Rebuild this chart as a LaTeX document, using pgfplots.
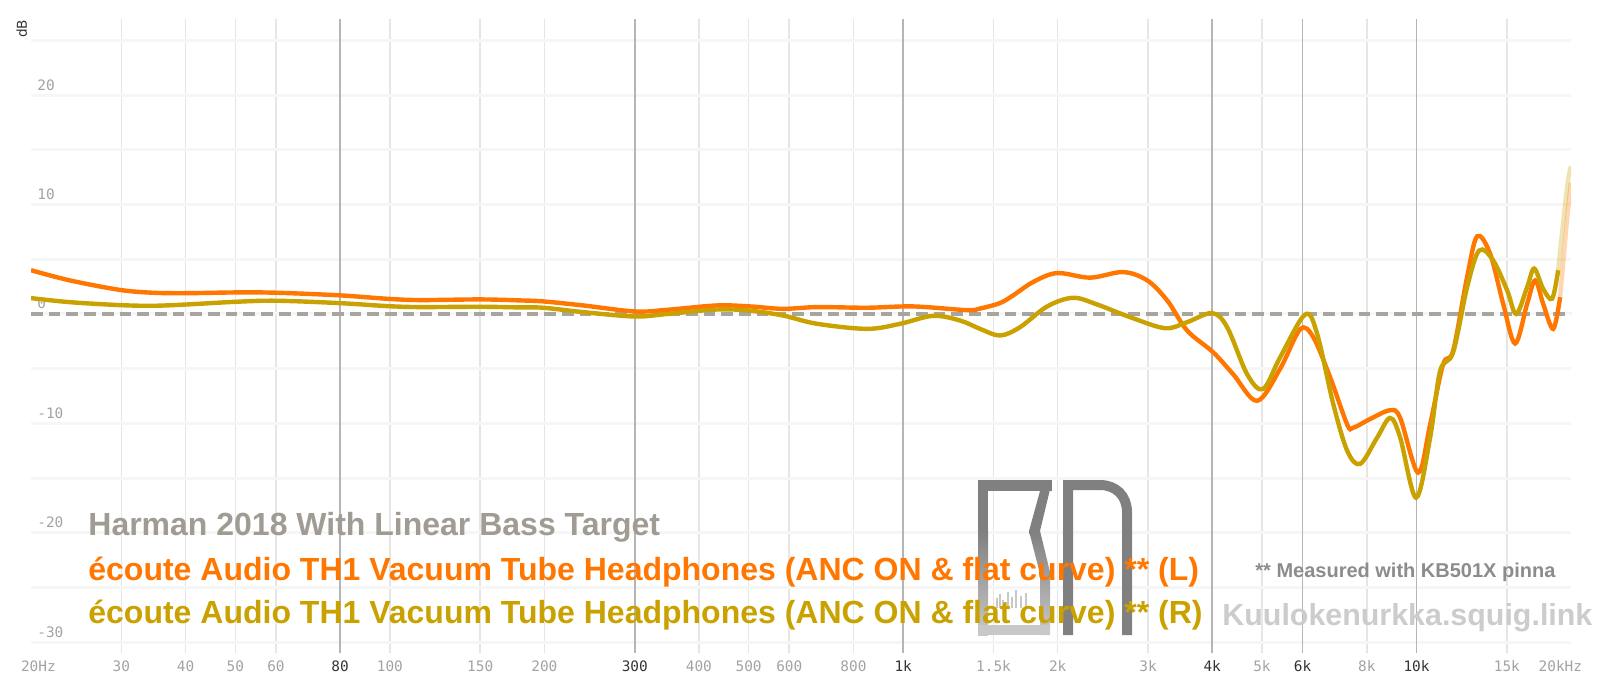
\documentclass[border=0pt]{standalone}
\usepackage{pgfplots}
\pgfplotsset{compat=1.18}
\usepackage{fontspec}
\setmainfont{Liberation Sans}
\newfontfamily\monofont{DejaVu Sans Mono}
\newfontfamily\labelfont{DejaVu Sans}

\definecolor{orangeL}{HTML}{FF7700}
\definecolor{goldR}{HTML}{C9A100}
\definecolor{target}{HTML}{A8A59E}
\definecolor{harman}{HTML}{A09C94}
\definecolor{gridminor}{HTML}{E6E6E6}
\definecolor{gridmajor}{HTML}{B5B5B5}
\definecolor{gridh}{HTML}{F6F6F6}
\definecolor{ticklight}{HTML}{A2A2A2}
\definecolor{tickdark}{HTML}{333333}
\definecolor{logogray}{HTML}{808080}
\definecolor{logolight}{HTML}{C8C8C8}
\definecolor{notegray}{HTML}{8C8C8C}
\definecolor{sitegray}{HTML}{CCCCCC}

% left channel (frequency in Hz, level in dB)
\pgfplotstableread{
f      db
20     4.0
23.8   3.07
29.8   2.2
34.6   1.94
40.3   1.9
50.4   1.97
60.3   1.94
80     1.7
98.8   1.39
114.5  1.27
150    1.33
179    1.24
199    1.15
238    0.78
300    0.23
347    0.38
434    0.78
503    0.69
583    0.47
680    0.63
851    0.57
1046   0.69
1332   0.35
1412   0.5
1544   1.0
1638   1.7
1791   2.92
1994   3.74
2313   3.32
2682   3.83
2988   3.07
3268   1.24
3574   -1.51
4016   -3.5
4393   -5.5
4892   -7.94
5425   -5.0
5935   -1.4
6290   -2.1
6790   -5.8
7328   -10.1
7528   -10.4
8122   -9.6
8886   -8.8
9294   -9.5
10072  -14.5
10630  -10.1
11268  -4.6
11786  -3.35
12550  3.4
13126  7.1
13914  5.5
14750  0.94
15566  -2.7
16428  0.94
17030  3.07
17648  0.94
18460  -1.36
19046  1.54
}\left

\pgfplotstableread{
f      db
19046  1.54
19652  8.6
20000  12
}\lefttail

% right channel
\pgfplotstableread{
f      db
20     1.45
23.8   1.08
29.8   0.81
34.6   0.75
40.3   0.87
50.4   1.12
60.3   1.21
80     0.99
98.8   0.72
114.5  0.63
150    0.66
179    0.6
199    0.57
238    0.17
300    -0.23
347    0.0
434    0.41
503    0.3
583    -0.14
680    -0.9
851    -1.36
986    -0.9
1144   -0.17
1291   -0.6
1412   -1.36
1544   -1.97
1690   -1.2
1908   0.69
2143   1.48
2386   0.87
2767   -0.29
3238   -1.3
3574   -0.75
3998   0.08
4276   -1.2
4677   -5.5
5024   -6.86
5425   -3.96
6068   -0.05
6402   -1.8
6882   -8.2
7328   -12.5
7768   -13.7
8382   -11.3
8886   -9.5
9294   -11.3
9982   -16.8
10630  -11.3
11118  -5.2
11786  -3.5
12550  2.46
13244  5.8
14102  4.9
15016  2.16
15640  0.0
16428  2.46
16952  4.15
17648  2.3
18378  1.4
18878  4.0
}\right

\pgfplotstableread{
f      db
18878  4.0
19652  11.6
20000  13.5
}\righttail

\begin{document}
\begin{tikzpicture}
\begin{axis}[
  at={(15.5pt,19.45pt)}, anchor=south west,
  scale only axis, width=770pt, height=317.25pt,
  xmode=log, xmin=20, xmax=20000, ymin=-31, ymax=27,
  axis line style={draw=none},
  major tick length=0pt, minor tick length=0pt,
  xtick={20,30,40,50,60,100,150,200,400,500,600,800,1500,2000,3000,5000,8000,15000,20000},
  xticklabels={\makebox[0pt][l]{\hspace*{-5pt}20Hz},30,40,50,60,100,150,200,400,500,600,800,1.5k,2k,3k,5k,8k,15k,\makebox[0pt][r]{20kHz\hspace*{-5.5pt}}},
  minor xtick={30,40,50,60,100,150,200,400,500,600,800,1500,2000,3000,5000,8000,15000},
  xminorgrids,
  minor x grid style={gridminor, line width=0.8pt},
  extra x ticks={80,300,1000,4000,6000,10000},
  extra x tick labels={80,300,1k,4k,6k,10k},
  extra x tick style={grid=major, major grid style={gridmajor, line width=0.8pt},
    xticklabel style={text=tickdark}},
  xticklabel style={font=\monofont\fontsize{7.2}{8}\selectfont, text=ticklight,
    anchor=north, inner sep=0pt, yshift=-3.6pt},
  ytick={-30,-20,-10,0,10,20},
  yticklabels={-30,-20,-10,0,10,20},
  minor ytick={-25,-15,-5,5,15,25},
  ymajorgrids, yminorgrids,
  major y grid style={gridh, line width=1.5pt},
  minor y grid style={gridh, line width=1.5pt},
  yticklabel style={font=\monofont\fontsize{7.2}{8}\selectfont, text=ticklight,
    anchor=south west, inner sep=0pt, xshift=3pt, yshift=2.2pt},
  ylabel={dB},
  ylabel style={at={(rel axis cs:-0.006,0.984)}, anchor=center, inner sep=0pt,
    font=\labelfont\fontsize{6.8}{7}\selectfont, text=tickdark},
]
% Harman 2018 target, normalised to 0 dB
\addplot[target, line width=2pt, dash pattern=on 5.85pt off 3pt]
  coordinates {(20,0) (20000,0)};
\addplot[orangeL, line width=2.2pt, smooth, tension=0.55] table[x=f, y=db] {\left};
\addplot[orangeL, line width=2.2pt, smooth, tension=0.55, opacity=0.3] table[x=f, y=db] {\lefttail};
\addplot[goldR, line width=2.2pt, smooth, tension=0.55] table[x=f, y=db] {\right};
\addplot[goldR, line width=2.2pt, smooth, tension=0.55, opacity=0.3] table[x=f, y=db] {\righttail};
\end{axis}

% site logo (pixel-based coordinates, origin at top left)
\begin{scope}[x=0.5pt, y=-0.5pt, shift={(0,346pt)}]
  \fill[logogray] (978,480) rectangle (988,531);
  \fill[logogray] (978,480) rectangle (1052,491);
  \fill[logogray] (1040,491) -- (1052,481) -- (1040,531) -- (1029,531) -- cycle;
  \shade[top color=logogray, middle color=white, bottom color=logolight]
    (978,531) rectangle (988,635);
  \shade[top color=logogray, middle color=white, bottom color=logolight]
    (1029,531) -- (1040,531) -- (1050,572) -- (1050,635) -- (1040,635) -- (1040,574) -- cycle;
  \fill[logolight] (978,625) rectangle (1050,635);
  \foreach \xb/\yt in {997/598,1000/594,1003/600,1008/592,1012/597,1016/590,1021/596,1026/593}
    \draw[logolight, line width=0.6pt] (\xb,608) -- (\xb,\yt);
  \draw[logogray, line width=5pt]
    (1068,635) -- (1068,485) -- (1100,485) .. controls (1116,485) and (1127,496) .. (1127,512) -- (1127,635);
\end{scope}

% legend entries
\node[anchor=base west, inner sep=0pt, text=harman, font=\bfseries\fontsize{16}{18}\selectfont]
  at (44pt,78.5pt) {Harman 2018 With Linear Bass Target};
\node[anchor=base west, inner sep=0pt, text=orangeL, font=\bfseries\fontsize{16}{18}\selectfont]
  at (44pt,56pt) {écoute Audio TH1 Vacuum Tube Headphones (ANC ON \& flat curve) ** (L)};
\node[anchor=base west, inner sep=0pt, text=goldR, font=\bfseries\fontsize{16}{18}\selectfont]
  at (44pt,34.25pt) {écoute Audio TH1 Vacuum Tube Headphones (ANC ON \& flat curve) ** (R)};

\node[anchor=base west, inner sep=0pt, text=notegray, font=\bfseries\fontsize{10}{12}\selectfont]
  at (627.5pt,57.5pt) {** Measured with KB501X pinna};
\node[anchor=base west, inner sep=0pt, text=sitegray, font=\bfseries\fontsize{15.2}{18}\selectfont]
  at (611pt,33.5pt) {Kuulokenurkka.squig.link};

\pgfresetboundingbox
\path (0,0) rectangle (800pt,346pt);
\end{tikzpicture}
\end{document}
